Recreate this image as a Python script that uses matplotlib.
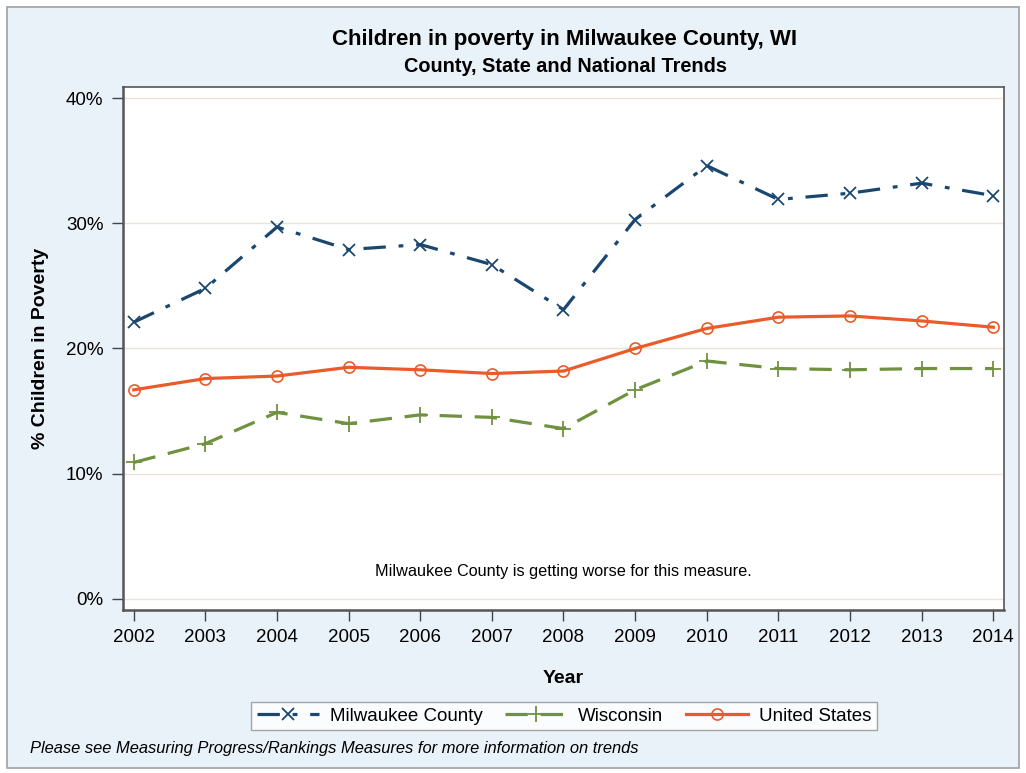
import matplotlib.pyplot as plt
import matplotlib as mpl
from matplotlib.patches import Rectangle
from matplotlib.ticker import FuncFormatter

mpl.rcParams['font.family'] = ['Liberation Sans', 'DejaVu Sans']

years = [2002, 2003, 2004, 2005, 2006, 2007, 2008, 2009, 2010, 2011, 2012, 2013, 2014]
milwaukee = [22.1, 24.8, 29.7, 27.9, 28.3, 26.7, 23.1, 30.3, 34.6, 31.9, 32.4, 33.2, 32.2]
wisconsin = [10.9, 12.4, 14.9, 14.0, 14.7, 14.5, 13.6, 16.7, 19.0, 18.4, 18.3, 18.4, 18.4]
united_states = [16.7, 17.6, 17.8, 18.5, 18.3, 18.0, 18.2, 20.0, 21.6, 22.5, 22.6, 22.2, 21.7]
y_ticks = [0, 10, 20, 30, 40]

navy = '#1a476f'
green = '#6f9140'
orange = '#ea5b2a'
panel = '#eaf2f9'

fig = plt.figure(figsize=(10.26, 7.73), dpi=100)
fig.patch.set_facecolor('white')
# bluish background panel with grey frame
fig.patches.append(Rectangle((7/1026, 5/773), 1012/1026, 761/773, transform=fig.transFigure,
                             facecolor=panel, edgecolor='#a0a0a0', lw=1.2, zorder=-1))

ax = fig.add_axes([123/1026, 1 - 610/773, 881/1026, 523/773])
ax.set_facecolor('white')

ax.plot(years, milwaukee, color=navy, lw=2.3, dashes=(7, 4, 1.5, 4), marker='x',
        ms=9, mew=1.3, label='Milwaukee County')
ax.plot(years, wisconsin, color=green, lw=2.3, dashes=(7, 4), marker='+',
        ms=11, mew=1.3, label='Wisconsin')
ax.plot(years, united_states, color=orange, lw=2.3, marker='o', ms=8, mfc='none',
        mew=1.2, label='United States')

ax.set_xlim(2001.85, 2014.15)
ax.set_ylim(-0.88, 40.88)
ax.set_xticks(years)
ax.set_yticks(y_ticks)
ax.yaxis.set_major_formatter(FuncFormatter(lambda v, p: f'{v:.0f}%'))
ax.grid(axis='y', color='#e8e4d8', lw=1)
ax.set_axisbelow(True)
ax.tick_params(direction='out', length=8, width=1, color='#444444', labelsize=13.5, pad=6)
for s in ax.spines.values():
    s.set_color('#555555')
    s.set_linewidth(1.2)
ax.spines['left'].set_linewidth(1.8)
ax.spines['bottom'].set_linewidth(1.8)

ax.set_xlabel('Year', fontsize=14, fontweight='bold', labelpad=17)
ax.set_ylabel('% Children in Poverty', fontsize=14, fontweight='bold', labelpad=12)

ax.text(0.5, 0.073, 'Milwaukee County is getting worse for this measure.', transform=ax.transAxes,
        ha='center', va='center', fontsize=11.7)

fig.text(564/1026, 1 - 40/773, 'Children in poverty in Milwaukee County, WI', ha='center',
         va='center', fontsize=16, fontweight='bold')
fig.text(566/1026, 1 - 66/773, 'County, State and National Trends', ha='center',
         va='center', fontsize=14.3, fontweight='bold')

leg = fig.legend(loc='center', bbox_to_anchor=(564/1026, 1 - 716/773), ncol=3, fontsize=13.5,
                 frameon=True, fancybox=False, handlelength=3.3, columnspacing=1.2,
                 borderpad=0.3, handletextpad=0.6)
leg.get_frame().set_edgecolor('#909090')
leg.get_frame().set_linewidth(1)

fig.text(30/1026, 1 - 748/773, 'Please see Measuring Progress/Rankings Measures for more information on trends',
         ha='left', va='center', fontsize=11.9, style='italic')

fig.savefig('out.png', dpi=100)
